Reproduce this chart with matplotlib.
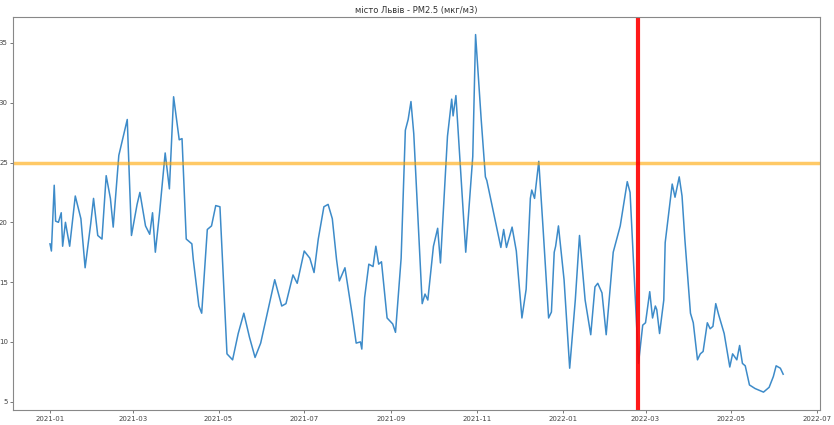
import pandas as pd
import matplotlib
matplotlib.use('Agg')
import matplotlib.pyplot as plt
import matplotlib.dates as mdates

# daily PM2.5 (turning points)
dates = ['2021-01-01', '2021-01-02', '2021-01-04', '2021-01-05', '2021-01-07', '2021-01-09',
         '2021-01-10', '2021-01-12', '2021-01-15', '2021-01-19', '2021-01-23', '2021-01-26',
         '2021-01-30', '2021-02-01', '2021-02-04', '2021-02-07', '2021-02-10', '2021-02-13',
         '2021-02-15', '2021-02-19', '2021-02-25', '2021-02-28', '2021-03-04', '2021-03-06',
         '2021-03-10', '2021-03-13', '2021-03-15', '2021-03-17', '2021-03-20', '2021-03-24',
         '2021-03-27', '2021-03-30', '2021-04-03', '2021-04-05', '2021-04-08', '2021-04-12',
         '2021-04-13', '2021-04-17', '2021-04-19', '2021-04-23', '2021-04-26', '2021-04-29',
         '2021-05-02', '2021-05-07', '2021-05-11', '2021-05-15', '2021-05-19', '2021-05-23',
         '2021-05-27', '2021-05-31', '2021-06-10', '2021-06-15', '2021-06-18', '2021-06-23',
         '2021-06-26', '2021-07-01', '2021-07-05', '2021-07-08', '2021-07-11', '2021-07-15',
         '2021-07-18', '2021-07-21', '2021-07-24', '2021-07-26', '2021-07-30', '2021-08-04',
         '2021-08-07', '2021-08-10', '2021-08-11', '2021-08-13', '2021-08-16', '2021-08-19',
         '2021-08-21', '2021-08-23', '2021-08-25', '2021-08-29', '2021-09-02', '2021-09-04',
         '2021-09-08', '2021-09-11', '2021-09-13', '2021-09-15', '2021-09-17', '2021-09-23',
         '2021-09-25', '2021-09-27', '2021-10-01', '2021-10-04', '2021-10-06', '2021-10-11',
         '2021-10-14', '2021-10-15', '2021-10-17', '2021-10-24', '2021-10-29', '2021-10-31',
         '2021-11-04', '2021-11-07', '2021-11-08', '2021-11-18', '2021-11-20', '2021-11-22',
         '2021-11-26', '2021-11-29', '2021-12-03', '2021-12-06', '2021-12-09', '2021-12-10',
         '2021-12-12', '2021-12-15', '2021-12-18', '2021-12-22', '2021-12-24', '2021-12-26',
         '2021-12-27', '2021-12-29', '2022-01-02', '2022-01-06', '2022-01-10', '2022-01-13',
         '2022-01-17', '2022-01-21', '2022-01-24', '2022-01-26', '2022-01-29', '2022-02-01',
         '2022-02-06', '2022-02-11', '2022-02-16', '2022-02-18', '2022-02-24', '2022-02-27',
         '2022-03-01', '2022-03-04', '2022-03-06', '2022-03-08', '2022-03-09', '2022-03-11',
         '2022-03-14', '2022-03-15', '2022-03-20', '2022-03-22', '2022-03-25', '2022-03-27',
         '2022-03-29', '2022-04-02', '2022-04-04', '2022-04-07', '2022-04-09', '2022-04-11',
         '2022-04-14', '2022-04-16', '2022-04-18', '2022-04-20', '2022-04-22', '2022-04-26',
         '2022-04-30', '2022-05-02', '2022-05-05', '2022-05-07', '2022-05-09', '2022-05-11',
         '2022-05-14', '2022-05-18', '2022-05-24', '2022-05-28', '2022-05-31', '2022-06-02',
         '2022-06-05', '2022-06-07']
pm25 = [18.2, 17.6, 23.1, 20.1, 20.0, 20.8,
        18.0, 20.0, 18.0, 22.2, 20.3, 16.2,
        19.9, 22.0, 18.9, 18.6, 23.9, 22.0,
        19.6, 25.6, 28.6, 18.9, 21.5, 22.5,
        19.7, 19.0, 20.8, 17.5, 20.8, 25.8,
        22.8, 30.5, 26.9, 27.0, 18.6, 18.2,
        16.9, 13.0, 12.4, 19.4, 19.7, 21.4,
        21.3, 9.0, 8.5, 10.7, 12.4, 10.4,
        8.7, 9.9, 15.2, 13.0, 13.2, 15.6,
        14.9, 17.6, 17.0, 15.8, 18.6, 21.3,
        21.5, 20.3, 16.9, 15.1, 16.2, 12.4,
        9.9, 10.0, 9.4, 13.7, 16.5, 16.3,
        18.0, 16.5, 16.7, 12.0, 11.5, 10.8,
        17.0, 27.7, 28.6, 30.1, 27.4, 13.2,
        14.0, 13.5, 18.0, 19.5, 16.6, 27.2,
        30.3, 28.9, 30.6, 17.5, 25.5, 35.7,
        28.6, 23.8, 23.5, 17.9, 19.4, 17.9,
        19.6, 17.6, 12.0, 14.4, 22.0, 22.7,
        22.0, 25.1, 19.6, 12.0, 12.5, 17.5,
        18.0, 19.7, 15.2, 7.8, 13.5, 18.9,
        13.5, 10.6, 14.6, 14.9, 14.1, 10.6,
        17.5, 19.7, 23.4, 22.5, 8.2, 11.4,
        11.6, 14.2, 12.0, 13.0, 12.7, 10.7,
        13.5, 18.3, 23.2, 22.1, 23.8, 22.2,
        18.6, 12.4, 11.6, 8.5, 9.0, 9.2,
        11.6, 11.1, 11.3, 13.2, 12.3, 10.7,
        7.9, 9.0, 8.5, 9.7, 8.2, 8.0,
        6.4, 6.1, 5.8, 6.2, 7.1, 8.0,
        7.8, 7.3]

norm_level = 25
war_start = '2022-02-24'

df = pd.DataFrame({'date': pd.to_datetime(dates), 'pm25': pm25})

fig = plt.figure(figsize=(8.34, 4.25), dpi=100)
ax = fig.add_axes([0.016, 0.0353, 0.967, 0.9254])
ax.plot(df.date, df.pm25, color='#3d8bc9', lw=1.1)
ax.axhline(norm_level, color='orange', alpha=0.6, lw=2.5)
ax.axvline(pd.Timestamp(war_start), color='red', alpha=0.9, lw=3)

ax.set_title('місто Львів - PM2.5 (мкг/м3)', fontsize=6, pad=3, color='#333333')
ax.xaxis.set_major_locator(mdates.MonthLocator(bymonth=[1, 3, 5, 7, 9, 11]))
ax.xaxis.set_major_formatter(mdates.DateFormatter('%Y-%m'))
ax.tick_params(labelsize=5, colors='#444444', length=2, width=0.5, pad=2)
for s in ax.spines.values():
    s.set_color('#888888')
    s.set_linewidth(0.8)

plt.savefig('out.png', dpi=100)
